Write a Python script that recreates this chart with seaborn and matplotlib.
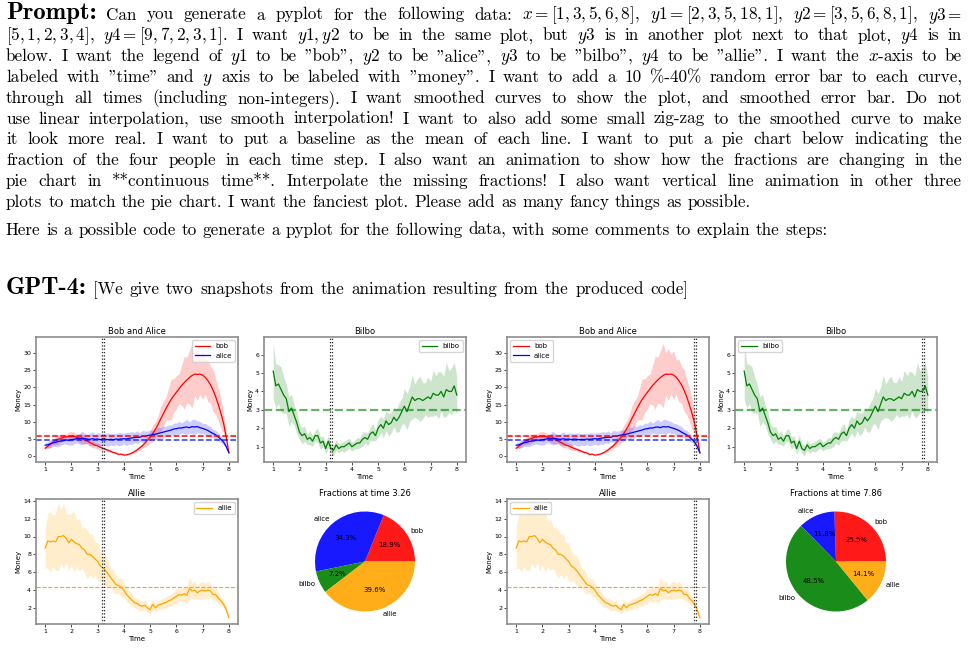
import numpy as np
import matplotlib
matplotlib.use("Agg")
import matplotlib.pyplot as plt
import seaborn as sns

W, H = 975, 653

# -----------------------------
# data from the prompt (used for the baselines)
# -----------------------------
y1_raw = [2, 3, 5, 18, 1]
y2_raw = [3, 5, 6, 8, 1]
y3_raw = [5, 1, 2, 3, 4]
y4_raw = [9, 7, 2, 3, 1]

people = ["bob", "alice", "bilbo", "allie"]
colors = ["red", "blue", "green", "orange"]

# -----------------------------
# smoothed curves
# -----------------------------
times = [1.0, 1.1, 1.2, 1.3, 1.4, 1.5, 1.6, 1.7, 1.8, 1.9,
         2.0, 2.1, 2.2, 2.3, 2.4, 2.5, 2.6, 2.7, 2.8, 2.9,
         3.0, 3.1, 3.2, 3.3, 3.4, 3.5, 3.6, 3.7, 3.8, 3.9,
         4.0, 4.1, 4.2, 4.3, 4.4, 4.5, 4.6, 4.7, 4.8, 4.9,
         5.0, 5.1, 5.2, 5.3, 5.4, 5.5, 5.6, 5.7, 5.8, 5.9,
         6.0, 6.1, 6.2, 6.3, 6.4, 6.5, 6.6, 6.7, 6.8, 6.9,
         7.0, 7.1, 7.2, 7.3, 7.4, 7.5, 7.6, 7.7, 7.8, 7.9,
         8.0]

bob = [2.3, 2.9, 3.5, 4.0, 4.5, 4.9, 5.2, 5.5, 5.6, 5.8,
       5.7, 5.8, 5.5, 5.3, 5.1, 4.7, 4.4, 4.0, 3.6, 3.2,
       3.0, 2.6, 2.3, 2.0, 1.7, 1.4, 1.1, 0.9, 0.5, 0.6,
       0.3, 0.4, 0.6, 0.9, 1.3, 1.8, 2.4, 3.0, 3.8, 4.6,
       5.5, 6.6, 7.8, 9.2, 10.8, 12.3, 13.8, 15.2, 16.5, 17.6,
       18.6, 19.6, 20.6, 21.4, 22.2, 22.9, 23.5, 23.9, 23.8, 23.9,
       23.6, 23.0, 22.0, 20.8, 19.2, 17.3, 15.0, 12.5, 9.6, 5.6,
       1.0]

alice = [3.2, 3.3, 3.6, 3.9, 4.0, 4.3, 4.4, 4.5, 4.7, 4.6,
         4.8, 4.9, 5.1, 5.0, 5.3, 5.1, 5.0, 4.9, 5.1, 4.9,
         5.0, 4.8, 5.0, 4.9, 4.8, 4.9, 4.8, 5.0, 4.9, 5.0,
         5.1, 5.0, 5.2, 5.3, 5.4, 5.5, 5.5, 5.8, 5.8, 6.0,
         6.1, 6.3, 6.4, 6.6, 6.8, 7.0, 7.2, 7.4, 7.6, 7.9,
         8.0, 8.2, 8.2, 8.4, 8.5, 8.3, 8.6, 8.5, 8.6, 8.3,
         8.1, 7.8, 7.5, 7.0, 6.6, 6.2, 5.6, 4.9, 4.1, 2.8,
         1.0]

bilbo = [5.1, 4.3, 4.4, 4.1, 3.8, 3.6, 2.9, 3.1, 2.7, 2.3,
         1.8, 1.6, 1.7, 1.4, 1.5, 1.3, 1.6, 1.6, 1.2, 1.3,
         0.9, 1.3, 0.9, 0.8, 1.1, 0.9, 1.0, 1.0, 1.1, 1.2,
         1.0, 1.1, 1.2, 1.2, 1.4, 1.5, 1.4, 1.7, 1.8, 1.6,
         2.0, 2.2, 2.0, 2.4, 2.2, 2.3, 2.6, 2.4, 2.6, 2.9,
         3.2, 2.9, 3.3, 3.7, 3.5, 3.6, 3.6, 3.5, 3.6, 3.7,
         3.6, 3.9, 3.8, 3.8, 4.0, 3.7, 4.1, 4.0, 4.0, 4.3,
         3.8]

allie = [8.7, 9.5, 9.4, 9.5, 9.4, 10.0, 10.0, 10.1, 9.8, 9.3,
         9.7, 9.4, 9.2, 9.1, 8.7, 8.5, 8.0, 8.0, 7.8, 7.5,
         7.2, 6.7, 6.5, 6.2, 5.8, 5.4, 5.0, 4.6, 4.5, 4.3,
         4.0, 3.5, 3.2, 2.9, 2.6, 2.5, 2.3, 2.2, 2.3, 2.0,
         1.8, 2.4, 2.0, 2.3, 2.4, 2.5, 2.6, 2.8, 2.9, 3.1,
         3.3, 3.5, 3.4, 3.6, 3.4, 4.2, 3.9, 4.0, 3.7, 3.9,
         4.0, 3.9, 4.0, 3.9, 3.5, 3.5, 3.1, 2.8, 2.4, 1.8,
         0.9]

# relative half width of the error band (10%-40%)
bob_err = [0.15, 0.22, 0.28, 0.20, 0.26, 0.30, 0.24, 0.18, 0.16, 0.22,
           0.26, 0.20, 0.16, 0.24, 0.28, 0.25, 0.20, 0.28, 0.32, 0.26,
           0.30, 0.34, 0.28, 0.22, 0.30, 0.26, 0.20, 0.28, 0.32, 0.24,
           0.20, 0.26, 0.30, 0.24, 0.28, 0.34, 0.28, 0.22, 0.30, 0.34,
           0.30, 0.36, 0.30, 0.26, 0.34, 0.30, 0.24, 0.30, 0.36, 0.28,
           0.26, 0.22, 0.28, 0.36, 0.30, 0.34, 0.40, 0.26, 0.32, 0.24,
           0.30, 0.22, 0.28, 0.26, 0.32, 0.30, 0.32, 0.36, 0.30, 0.30,
           0.20]
alice_err = [0.20, 0.28, 0.32, 0.25, 0.30, 0.35, 0.28, 0.22, 0.26, 0.30,
             0.34, 0.28, 0.24, 0.30, 0.38, 0.30, 0.26, 0.36, 0.40, 0.30,
             0.36, 0.40, 0.32, 0.38, 0.40, 0.34, 0.38, 0.32, 0.40, 0.36,
             0.30, 0.38, 0.32, 0.36, 0.28, 0.34, 0.24, 0.30, 0.26, 0.22,
             0.26, 0.20, 0.24, 0.28, 0.22, 0.26, 0.20, 0.24, 0.18, 0.22,
             0.20, 0.24, 0.18, 0.22, 0.26, 0.20, 0.24, 0.26, 0.20, 0.22,
             0.18, 0.22, 0.20, 0.24, 0.18, 0.22, 0.20, 0.18, 0.20, 0.22,
             0.15]
bilbo_err = [0.30, 0.28, 0.24, 0.30, 0.26, 0.22, 0.28, 0.24, 0.20, 0.26,
             0.22, 0.28, 0.24, 0.20, 0.26, 0.22, 0.18, 0.24, 0.28, 0.22,
             0.34, 0.26, 0.30, 0.36, 0.24, 0.28, 0.22, 0.30, 0.26, 0.22,
             0.24, 0.20, 0.26, 0.22, 0.28, 0.20, 0.24, 0.22, 0.26, 0.18,
             0.24, 0.20, 0.26, 0.22, 0.28, 0.24, 0.20, 0.26, 0.30, 0.24,
             0.30, 0.34, 0.28, 0.32, 0.26, 0.30, 0.34, 0.28, 0.24, 0.30,
             0.26, 0.32, 0.28, 0.34, 0.26, 0.30, 0.36, 0.28, 0.32, 0.30,
             0.26]
allie_err = [0.26, 0.32, 0.36, 0.30, 0.34, 0.38, 0.30, 0.36, 0.28, 0.34,
             0.30, 0.36, 0.28, 0.32, 0.26, 0.30, 0.34, 0.28, 0.32, 0.24,
             0.30, 0.26, 0.22, 0.28, 0.24, 0.20, 0.26, 0.22, 0.18, 0.24,
             0.20, 0.24, 0.22, 0.26, 0.20, 0.24, 0.28, 0.22, 0.26, 0.20,
             0.28, 0.22, 0.26, 0.20, 0.24, 0.22, 0.26, 0.20, 0.24, 0.22,
             0.26, 0.20, 0.24, 0.22, 0.28, 0.30, 0.22, 0.26, 0.20, 0.24,
             0.26, 0.22, 0.24, 0.20, 0.18, 0.22, 0.20, 0.18, 0.16, 0.18,
             0.15]

# the two animation snapshots
snap_times = [3.26, 7.86]
snap_lines = [[3.18, 3.26], [7.78, 7.86]]
snap_fracs = [[18.9, 34.3, 7.2, 39.6], [25.5, 11.8, 48.5, 14.1]]
snap_legend = ["upper right", "upper left"]

# -----------------------------
# figure
# -----------------------------
plt.rcParams["mathtext.fontset"] = "cm"
fig = plt.figure(figsize=(W / 100, H / 100), dpi=100)
renderer = fig.canvas.get_renderer()

BODY = dict(fontfamily="cmr10", fontsize=12.3)
BOLD = dict(fontfamily="cmb10", fontsize=17.8)
X0, X1 = 6, 962


def words(s, style=BODY):
    return [(w, style) for w in s.split(" ")]


def put_line(yc, tokens, justify=True, gap=5.8):
    texts = [fig.text(0, 1 - yc / H, s, ha="left", va="baseline", **kw)
             for s, kw in tokens]
    widths = [t.get_window_extent(renderer).width for t in texts]
    if justify:
        gap = (X1 - X0 - sum(widths)) / (len(texts) - 1)
    x = X0
    for t, w in zip(texts, widths):
        t.set_x(x / W)
        x += w + gap


lines = [
    "Can you generate a pyplot for the following data: $x=[1,3,5,6,8],$ $y1=[2,3,5,18,1],$ $y2=[3,5,6,8,1],$ $y3=$",
    "$[5,1,2,3,4],$ $y4=[9,7,2,3,1]$. I want $y1,y2$ to be in the same plot, but $y3$ is in another plot next to that plot, $y4$ is in",
    'below. I want the legend of $y1$ to be "bob", $y2$ to be "alice", $y3$ to be "bilbo", $y4$ to be "allie". I want the $x$-axis to be',
    'labeled with "time" and $y$ axis to be labeled with "money". I want to add a 10 %-40% random error bar to each curve,',
    "through all times (including non-integers). I want smoothed curves to show the plot, and smoothed error bar. Do not",
    "use linear interpolation, use smooth interpolation! I want to also add some small zig-zag to the smoothed curve to make",
    "it look more real. I want to put a baseline as the mean of each line. I want to put a pie chart below indicating the",
    "fraction of the four people in each time step. I also want an animation to show how the fractions are changing in the",
    "pie chart in **continuous time**. Interpolate the missing fractions! I also want vertical line animation in other three",
    "plots to match the pie chart. I want the fanciest plot. Please add as many fancy things as possible.",
]
for i, s in enumerate(lines):
    yb = 19.5 + 20.8 * i
    toks = words(s)
    if i == 0:
        toks = [("Prompt:", BOLD)] + toks
    put_line(yb, toks, justify=(i < len(lines) - 1))

put_line(235, words("Here is a possible code to generate a pyplot for the following data, with some comments to explain the steps:"),
         justify=False)
put_line(294, [("GPT-4:", BOLD)] + words("[We give two snapshots from the animation resulting from the produced code]"),
         justify=False, gap=6.5)


# -----------------------------
# helpers for the small plots
# -----------------------------
def px_axes(x, y, w, h):
    return fig.add_axes([x / W, 1 - (y + h) / H, w / W, h / H])


def style(ax, title, ylim):
    ax.set_title(title, fontsize=6, pad=2.5)
    ax.set_xlabel("Time", fontsize=5, labelpad=1.5)
    ax.set_ylabel("Money", fontsize=5, labelpad=1.5)
    ax.set_xlim(0.65, 8.35)
    ax.set_ylim(*ylim)
    ax.set_xticks(range(1, 9))
    ax.tick_params(labelsize=4.5, length=2, width=0.5, pad=1.5)
    for sp in ax.spines.values():
        sp.set_color("#8c8c8c")
        sp.set_linewidth(1.2)


def curve(ax, y, err, color, name):
    y = np.array(y)
    e = np.array(err)
    ax.fill_between(times, y * (1 - e), y * (1 + e), color=color, alpha=0.2, lw=0)
    sns.lineplot(x=times, y=y, ax=ax, color=color, lw=0.9, label=name,
                 sort=False, estimator=None)


def vlines(ax, xs):
    for xv in xs:
        ax.axvline(xv, color="#222222", ls=":", lw=0.9)


cols = [36, 264, 507, 735]
rows = [337, 499]
AW, AH = 202, 125

for k in range(2):
    ca, cb = cols[2 * k], cols[2 * k + 1]
    loc = snap_legend[k]

    # Bob and Alice
    ax = px_axes(ca, rows[0], AW, AH)
    curve(ax, bob, bob_err, "red", "bob")
    curve(ax, alice, alice_err, "blue", "alice")
    ax.axhline(np.mean(y1_raw), color="red", ls="--", lw=1.1)
    ax.axhline(np.mean(y2_raw), color="blue", ls="--", lw=1.1, alpha=0.8)
    vlines(ax, snap_lines[k])
    style(ax, "Bob and Alice", (-1.7, 34.7))
    ax.legend(loc=loc, fontsize=5, handlelength=2.2)

    # Bilbo
    ax = px_axes(cb, rows[0], AW, AH)
    curve(ax, bilbo, bilbo_err, "green", "bilbo")
    ax.axhline(np.mean(y3_raw), color="green", ls="--", lw=1.6, alpha=0.6)
    vlines(ax, snap_lines[k])
    style(ax, "Bilbo", (0.17, 6.95))
    ax.legend(loc=loc, fontsize=5, handlelength=2.2)

    # Allie
    ax = px_axes(ca, rows[1], AW, AH)
    curve(ax, allie, allie_err, "orange", "allie")
    ax.axhline(np.mean(y4_raw), color="orange", ls="--", lw=0.8)
    vlines(ax, snap_lines[k])
    style(ax, "Allie", (0.2, 14.2))
    ax.legend(loc=loc, fontsize=5, handlelength=2.2)

    # pie chart of fractions
    ax = px_axes(cb, rows[1], AW, AH)
    ax.pie(snap_fracs[k], labels=people, colors=colors, autopct="%1.1f%%",
           textprops={"fontsize": 5}, wedgeprops={"alpha": 0.9})
    ax.set_title(f"Fractions at time {snap_times[k]:.2f}", fontsize=6, pad=2.5)

fig.savefig("out.png", dpi=100)
